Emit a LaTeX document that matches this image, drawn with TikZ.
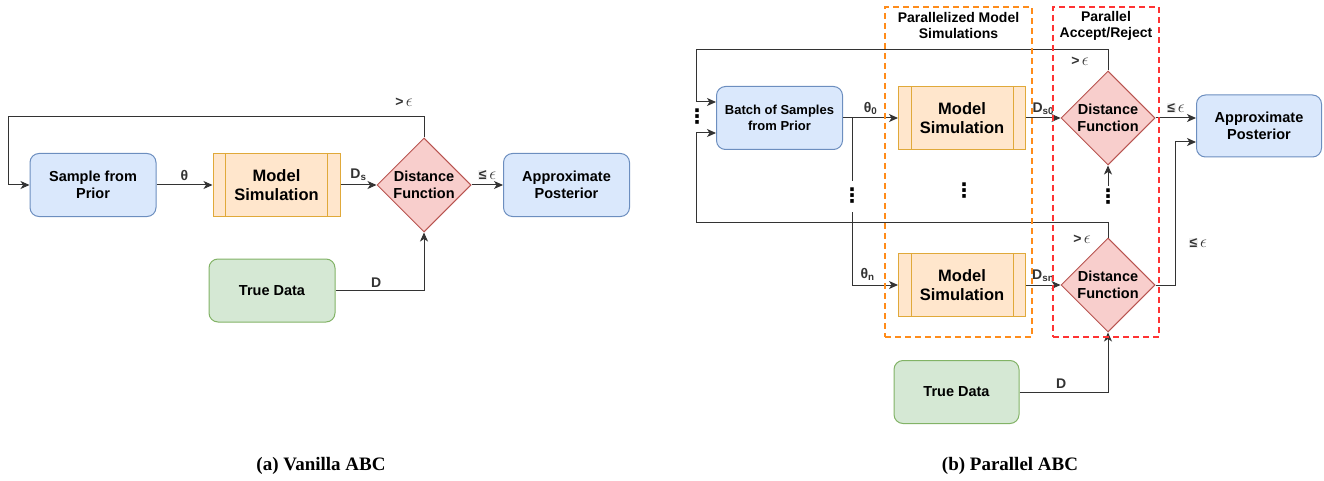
\documentclass[tikz,border=0pt]{standalone}
\usepackage{fontspec}
\setmainfont{Liberation Sans}
\newfontfamily\capfont{Liberation Serif}
\newfontfamily\dvfont{DejaVu Sans}
\usetikzlibrary{calc,positioning,arrows.meta,shapes}
\definecolor{bluF}{HTML}{DAE8FC}\definecolor{bluD}{HTML}{6C8EBF}
\definecolor{grnF}{HTML}{D5E8D4}\definecolor{grnD}{HTML}{82B366}
\definecolor{orgF}{HTML}{FFE6CC}\definecolor{orgD}{HTML}{E0A93A}
\definecolor{redF}{HTML}{F8CECC}\definecolor{redD}{HTML}{B85450}
\definecolor{orgL}{HTML}{FF8C1A}\definecolor{redL}{HTML}{FF3333}
\definecolor{lnk}{HTML}{333333}
\newcommand{\eps}{{\fontsize{16}{16}\selectfont$\epsilon$}}
\newcommand{\lep}{{\setlength{\fboxsep}{0.6pt}\colorbox{gray!12}{≤}}\,\eps}
\newcommand{\gep}{>\,\eps}
\begin{document}
\begin{tikzpicture}[x=1pt, y=-1pt, line width=1pt, >={Stealth[length=9pt,width=8pt,inset=2.5pt]},
  lbl/.style={inner sep=1pt, text=lnk, font=\fontsize{14}{14}\selectfont\bfseries},
  ttl/.style={align=center, inner sep=2pt, font=\fontsize{14}{16}\selectfont\bfseries},
  dts/.style={inner sep=0pt, font=\dvfont\bfseries\fontsize{20}{20}\selectfont}]
\tikzstyle{blk}=[rectangle, rounded corners=9pt, draw=bluD, fill=bluF, minimum width=126pt, minimum height=63pt, align=center, font=\fontsize{14.5}{17}\selectfont\bfseries]
\tikzstyle{grn}=[blk, draw=grnD, fill=grnF]
\tikzstyle{proc}=[rectangle, draw=orgD, fill=orgF, minimum width=127pt, minimum height=63pt, align=center, font=\fontsize{16.5}{19}\selectfont\bfseries]
\tikzstyle{dec}=[diamond, draw=redD, fill=redF, minimum width=94pt, minimum height=94pt, inner sep=0pt, align=center, font=\fontsize{14.5}{16.5}\selectfont\bfseries]
\tikzstyle{grp}=[rectangle, dash pattern=on 6pt off 4pt, line width=1.5pt, fill=none]
\useasboundingbox (0,0) rectangle (1324,481);
% (a) vanilla
\node[blk] (smp) at (93,185) {Sample from\\Prior};
\node[proc] (sim) at (276.5,185) {Model\\Simulation};
\node[dec] (dst) at (424,185) {Distance\\Function};
\node[blk] (post) at (566.5,185) {Approximate\\Posterior};
\node[grn] (tru) at (272,290.5) {True Data};
\coordinate (lp) at (8,117);
\draw[->, lnk] (dst.north) |- (lp) |- (smp.west);
\node[lbl] (gta) at (404,102) {\gep};
\draw[->, lnk] (smp) -- node[lbl, above=3pt]{θ} (sim);
\draw[->, lnk] (sim) -- node[lbl, above=3pt]{D\textsubscript{s}} (dst);
\draw[->, lnk] (dst) -- node[lbl, above=3pt]{\lep} (post);
\draw[->, lnk] (tru) -| node[lbl, above=2pt, pos=0.23]{D} (dst.south);
% (b) parallel
\node[blk, font=\fontsize{13}{16}\selectfont\bfseries] (bat) at (779.5,118) {Batch of Samples\\from Prior};
\node[proc] (sim0) at (962,118) {Model\\Simulation};
\node[proc] (simn) at (962,285) {Model\\Simulation};
\node[dec] (dst0) at (1108,118) {Distance\\Function};
\node[dec] (dstn) at (1108,285) {Distance\\Function};
\node[blk, minimum width=125pt, minimum height=62pt] (pst) at (1259,126) {Approximate\\Posterior};
\node[grn, minimum width=125pt] (tru2) at (956.5,392) {True Data};
\foreach \s in {sim,sim0,simn}{
  \draw[orgD] ([xshift=13pt]\s.north west) -- ([xshift=13pt]\s.south west);
  \draw[orgD] ([xshift=-13pt]\s.north east) -- ([xshift=-13pt]\s.south east);
}
\coordinate (lpT) at (696,50);
\coordinate (lpB) at (696,222);
\draw[->, lnk] (dst0.north) |- (lpT) |- ([yshift=16pt]bat.west);
\draw[->, lnk] (dstn.north) |- (lpB) |- ([yshift=-15pt]bat.west);
\node[dts] (dt1) at (697,117) {⋮};
\node[lbl] (gt0) at (1080,61) {\gep};
\node[lbl] (gtn) at (1082,239) {\gep};
\draw[->, lnk] (bat) -- node[lbl, above=2pt]{θ\textsubscript{0}} (sim0);
\coordinate (br) at (852,118);
\coordinate (brn) at (852,212);
\draw[lnk] (br) -- ++(0,63);
\node[dts] (dt2) at (852,196) {⋮};
\draw[->, lnk] (brn) |- node[lbl, above=3pt, pos=0.67]{θ\textsubscript{n}} (simn.west);
\node[dts] (dt4) at (964,191) {⋮};
\draw[->, lnk] (sim0) -- node[lbl, above=2pt]{D\textsubscript{s0}} (dst0);
\draw[->, lnk] (simn) -- node[lbl, above=2pt]{D\textsubscript{sn}} (dstn);
\draw[->, lnk] (dst0.east) -- node[lbl, above=3pt]{\lep} (dst0.east -| pst.west);
\coordinate (pin) at ([yshift=-16pt]pst.west);
\draw[->, lnk] (dstn.east) -| ([xshift=-21pt]pin) -- (pin);
\node[lbl] (len) at (1198,243) {\lep};
\node[dts] (dt3) at (1108,197) {⋮};
\draw[->, lnk] ([yshift=3pt]dt3.north) -- (dst0.south);
\draw[->, lnk] (tru2) -| node[lbl, above=2pt, pos=0.236]{D} (dstn.south);
\node[grp, draw=orgL, minimum width=147pt, minimum height=330pt] (gsim) at (958.5,172) {};
\node[grp, draw=redL, minimum width=106pt, minimum height=330pt] (gacc) at (1106,172) {};
\node[ttl, below=4pt of gsim.north] (tsim) {Parallelized Model\\Simulations};
\node[ttl, below=3pt of gacc.north] (tacc) {Parallel\\Accept/Reject};
% captions
\node[font=\capfont\fontsize{19}{19}\selectfont\bfseries] (capa) at (321,466) {(a) Vanilla ABC};
\node[font=\capfont\fontsize{19}{19}\selectfont\bfseries] (capb) at (1010,466) {(b) Parallel ABC};
\end{tikzpicture}
\end{document}
